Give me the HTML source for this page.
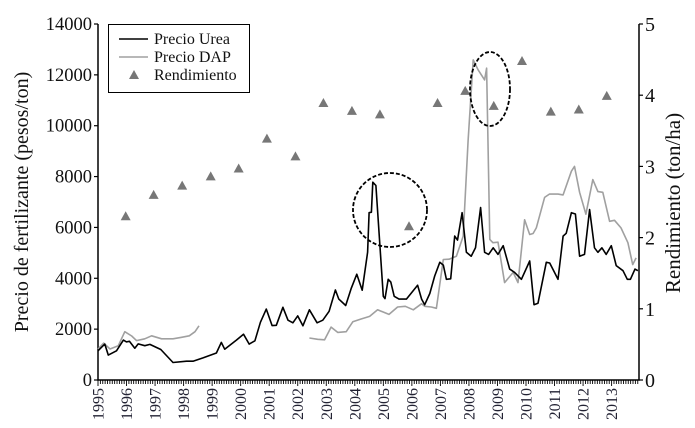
<!DOCTYPE html>
<html><head><meta charset="utf-8"><style>
html,body{margin:0;padding:0;background:#fff;}
svg{display:block;font-family:"Liberation Serif",serif;}
</style></head><body>
<svg id="chart" width="695" height="428" viewBox="0 0 695 428" xmlns="http://www.w3.org/2000/svg">
<g id="plot"></g>
</svg>
<script>
const ureaT=[1995.0,1995.24,1995.36,1995.65,1995.89,1996.0,1996.1,1996.29,1996.41,1996.64,1996.82,1997.2,1997.63,1998.1,1998.33,1998.68,1999.15,1999.32,1999.44,1999.85,2000.1,2000.3,2000.5,2000.69,2000.9,2001.1,2001.25,2001.48,2001.66,2001.83,2002.0,2002.18,2002.41,2002.68,2002.88,2003.1,2003.32,2003.44,2003.68,2003.87,2004.07,2004.26,2004.45,2004.5,2004.58,2004.63,2004.74,2005.0,2005.06,2005.17,2005.26,2005.38,2005.55,2005.81,2006.2,2006.34,2006.45,2006.63,2006.8,2006.98,2007.1,2007.21,2007.36,2007.5,2007.6,2007.76,2007.91,2008.08,2008.23,2008.41,2008.55,2008.69,2008.85,2009.02,2009.2,2009.43,2009.6,2009.84,2010.13,2010.28,2010.42,2010.71,2010.83,2011.0,2011.12,2011.3,2011.41,2011.59,2011.73,2011.88,2012.05,2012.23,2012.4,2012.52,2012.66,2012.81,2012.99,2013.16,2013.4,2013.55,2013.66,2013.82,2013.92];
const ureaV=[1150,1410,980,1150,1570,1500,1520,1250,1420,1350,1400,1200,690,740,740,870,1060,1480,1210,1570,1800,1410,1540,2270,2790,2140,2150,2860,2350,2250,2520,2130,2760,2250,2350,2700,3540,3180,2930,3590,4160,3530,5020,6580,6600,7780,7650,3290,3200,3960,3850,3290,3180,3180,3730,3180,2960,3400,4090,4630,4520,3960,3980,5660,5500,6580,5020,4870,5200,6780,5020,4940,5200,4940,5280,4360,4230,3960,4680,2960,3020,4630,4600,4230,3960,5660,5770,6580,6530,4870,4940,6700,5200,5020,5200,4940,5280,4500,4300,3960,3960,4360,4300];
const dapT=[1995.0,1995.2,1995.42,1995.71,1995.94,1996.18,1996.35,1996.64,1996.88,1997.23,1997.63,1997.93,1998.2,1998.4,1998.54,null,2002.41,2002.7,2002.94,2003.17,2003.4,2003.7,2003.93,2004.22,2004.52,2004.8,2005.2,2005.5,2005.77,2006.05,2006.34,2006.45,2006.68,2006.86,2007.1,2007.3,2007.56,2007.8,2007.97,2008.15,2008.32,2008.55,2008.62,2008.73,2008.84,2009.02,2009.25,2009.55,2009.72,2009.95,2010.13,2010.25,2010.36,2010.65,2010.82,2011.12,2011.3,2011.59,2011.7,2011.88,2012.1,2012.34,2012.52,2012.69,2012.93,2013.1,2013.33,2013.57,2013.74,2013.86];
const dapV=[1220,1450,1220,1350,1900,1730,1550,1620,1740,1620,1620,1680,1740,1900,2130,null,1650,1600,1580,2080,1870,1900,2290,2400,2500,2760,2580,2870,2900,2760,3000,2900,2870,2820,4740,4750,4870,5660,9410,12590,12200,11800,12260,5530,5400,5420,3830,4230,3830,6300,5720,5760,5980,7180,7310,7310,7280,8210,8400,7380,6520,7880,7410,7380,6240,6280,5980,5400,4540,4800];
const yieldT=[1995.97,1996.95,1997.95,1998.95,1999.93,2000.92,2001.92,2002.9,2003.9,2004.88,2005.9,2006.9,2007.87,2008.87,2009.86,2010.87,2011.85,2012.83];
const yieldV=[2.30,2.60,2.73,2.86,2.97,3.39,3.14,3.89,3.78,3.73,2.16,3.89,4.06,3.85,4.48,3.77,3.80,3.99];
const leftTicks=[0,2000,4000,6000,8000,10000,12000,14000];
const rightTicks=[0,1,2,3,4,5];
const yearLabels=[1995,1996,1997,1998,1999,2000,2001,2002,2003,2004,2005,2006,2007,2008,2009,2010,2011,2012,2013];

const NS="http://www.w3.org/2000/svg";
const X0=98,X1=639,Y0=380,Y1=24,TMIN=1995,TMAX=2013.96;
function xs(t){return X0+(t-TMIN)/(TMAX-TMIN)*(X1-X0);}
function yl(v){return Y0-v/14000*(Y0-Y1);}
function yr(v){return Y0-v/5*(Y0-Y1);}
const g=document.getElementById('plot');
function mk(tag,attrs,parent){const e=document.createElementNS(NS,tag);for(const k in attrs)e.setAttribute(k,attrs[k]);(parent||g).appendChild(e);return e;}

let ax=mk('path',{d:`M${X0},${Y1} V${Y0} H${X1} V${Y1}`,fill:'none',stroke:'#000','stroke-width':1.5});


leftTicks.forEach(v=>{
  const t=mk('line',{x1:X0-4,x2:X0,y1:yl(v),y2:yl(v),stroke:'#000','stroke-width':1.2});
  
  
  const l=mk('text',{x:X0-6,y:yl(v)+6,'text-anchor':'end','font-size':18.5,fill:'#111'});
  l.textContent=v;
  
  
});
rightTicks.forEach(v=>{
  const t=mk('line',{x1:X1,x2:X1+4,y1:yr(v),y2:yr(v),stroke:'#000','stroke-width':1.2});
  
  
  const l=mk('text',{x:X1+6,y:yr(v)+7,'font-size':20,fill:'#111'});
  l.textContent=v;
  
  
});
for(let m=0;m<=Math.floor((TMAX-TMIN)*12);m++){
  const x=xs(TMIN+m/12);
  const t=mk('line',{x1:x,x2:x,y1:Y0,y2:Y0+(m%12===0?6:4),stroke:'#000','stroke-width':0.9});
  
  
}
yearLabels.forEach(yv=>{
  const x=xs(yv)+5.5;
  const l=mk('text',{x:0,y:0,transform:`translate(${x},388) rotate(-90)`,'text-anchor':'end','font-size':16,fill:'#223'});
  l.textContent=yv;
  
  
});
let lt=mk('text',{x:0,y:0,transform:'translate(28,202) rotate(-90)','text-anchor':'middle','font-size':20,fill:'#111'});
lt.textContent='Precio de fertilizante (pesos/ton)';


let rt=mk('text',{x:0,y:0,transform:'translate(680,203) rotate(-90)','text-anchor':'middle','font-size':21,fill:'#111'});
rt.textContent='Rendimiento (ton/ha)';



function linePath(T,V){let d='',pen=false;for(let i=0;i<T.length;i++){if(T[i]===null){pen=false;continue;}d+=(pen?'L':'M')+xs(T[i]).toFixed(1)+','+yl(V[i]).toFixed(1);pen=true;}return d;}
let dp=mk('path',{d:linePath(dapT,dapV),fill:'none',stroke:'#a0a0a0','stroke-width':1.6,'stroke-linejoin':'round'});


let up=mk('path',{d:linePath(ureaT,ureaV),fill:'none',stroke:'#000','stroke-width':1.6,'stroke-linejoin':'round'});


yieldT.forEach((t,i)=>{
  const x=xs(t),y=yr(yieldV[i]);
  const p=mk('path',{d:`M${x},${y-5} L${x+5},${y+4} L${x-5},${y+4}Z`,fill:'#777'});
  
  
});
let c1=mk('ellipse',{cx:390,cy:210,rx:37,ry:37,fill:'none',stroke:'#000','stroke-width':1.8,'stroke-dasharray':'4,2'});


let c2=mk('ellipse',{cx:490,cy:89,rx:20,ry:37,fill:'none',stroke:'#000','stroke-width':1.8,'stroke-dasharray':'4,2'});



const lg=mk('g',{});


mk('rect',{x:108.5,y:24.5,width:141,height:68,fill:'#fff',stroke:'#000','stroke-width':1},lg);
mk('line',{x1:119,x2:148,y1:39,y2:39,stroke:'#000','stroke-width':1.5},lg);
mk('line',{x1:119,x2:148,y1:57,y2:57,stroke:'#a0a0a0','stroke-width':1.5},lg);
mk('path',{d:'M134,70 L139,79 L129,79Z',fill:'#777'},lg);
[['Precio Urea',44],['Precio DAP',62],['Rendimiento',80]].forEach(([s,y])=>{
  const t=mk('text',{x:154,y:y,'font-size':16,fill:'#111'},lg);
  t.textContent=s;
  
  
});
</script>
</body></html>
